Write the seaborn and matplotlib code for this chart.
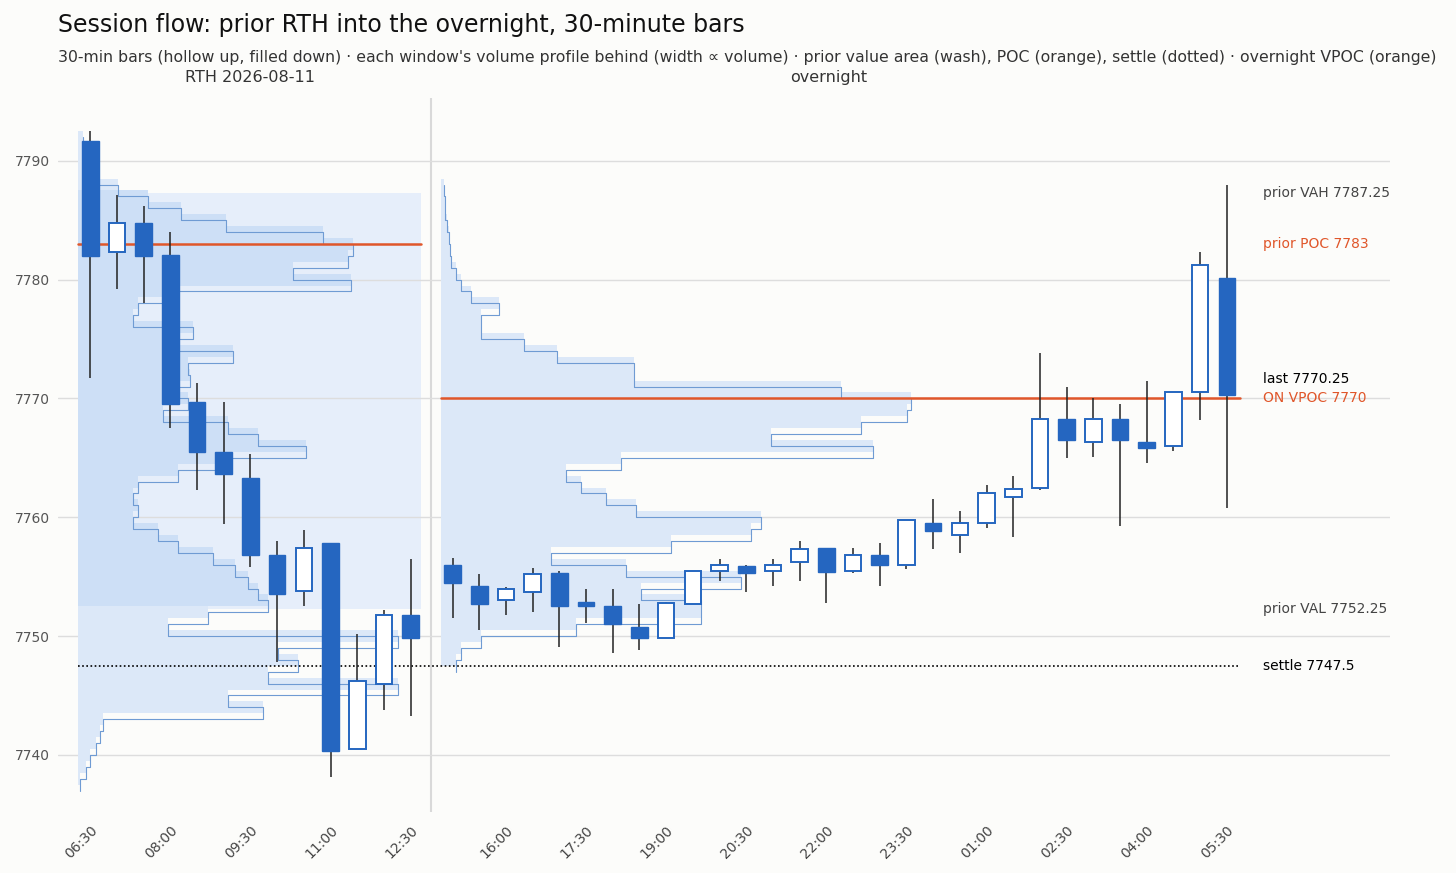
import numpy as np
import pandas as pd
import matplotlib.pyplot as plt
import seaborn as sns

# --- data ---
rth_times = ["06:30", "07:00", "07:30", "08:00", "08:30", "09:00", "09:30",
             "10:00", "10:30", "11:00", "11:30", "12:00", "12:30"]
rth_open = [7791.7, 7782.3, 7784.8, 7782.1, 7769.7, 7765.5, 7763.3, 7756.8, 7753.8, 7757.8, 7740.5, 7746.0, 7751.8]
rth_high = [7792.5, 7787.1, 7786.2, 7784.0, 7771.3, 7769.7, 7765.3, 7758.0, 7758.9, 7757.8, 7750.2, 7752.2, 7756.5]
rth_low = [7771.7, 7779.2, 7778.0, 7767.5, 7762.3, 7759.4, 7755.8, 7747.8, 7752.5, 7738.1, 7743.8, 7743.8, 7743.3]
rth_close = [7782.0, 7784.8, 7782.0, 7769.5, 7765.5, 7763.6, 7756.8, 7753.5, 7757.4, 7740.3, 7746.2, 7751.8, 7749.8]

on_times = ["15:00", "15:30", "16:00", "16:30", "17:00", "17:30", "18:00", "18:30", "19:00", "19:30",
            "20:00", "20:30", "21:00", "21:30", "22:00", "22:30", "23:00", "23:30", "00:00", "00:30",
            "01:00", "01:30", "02:00", "02:30", "03:00", "03:30", "04:00", "04:30", "05:00", "05:30"]
on_open = [7756.0, 7754.2, 7753.0, 7753.7, 7755.3, 7752.8, 7752.5, 7750.8, 7749.8, 7752.7,
           7755.5, 7755.9, 7755.5, 7756.2, 7757.4, 7755.5, 7756.8, 7756.0, 7759.5, 7758.5,
           7759.5, 7761.7, 7762.5, 7768.3, 7766.3, 7768.3, 7766.3, 7766.0, 7770.5, 7780.1]
on_high = [7756.6, 7755.2, 7754.1, 7755.7, 7755.5, 7754.0, 7754.0, 7752.7, 7752.9, 7755.5,
           7756.5, 7756.0, 7756.5, 7758.0, 7757.4, 7757.4, 7757.8, 7759.8, 7761.5, 7760.5,
           7762.7, 7763.5, 7773.8, 7771.0, 7770.0, 7769.5, 7771.5, 7768.5, 7782.3, 7788.0]
on_low = [7751.5, 7750.5, 7751.8, 7752.0, 7749.1, 7751.1, 7748.6, 7748.8, 7749.8, 7752.7,
          7754.6, 7753.7, 7754.2, 7754.6, 7752.8, 7755.3, 7754.2, 7755.6, 7757.3, 7757.0,
          7759.1, 7758.3, 7762.3, 7765.0, 7765.1, 7759.3, 7764.6, 7765.6, 7768.2, 7760.8]
on_close = [7754.5, 7752.7, 7754.0, 7755.2, 7752.5, 7752.5, 7751.0, 7749.8, 7752.8, 7755.5,
            7756.0, 7755.3, 7756.0, 7757.3, 7755.4, 7756.8, 7756.0, 7759.8, 7758.8, 7759.5,
            7762.0, 7762.4, 7768.3, 7766.5, 7768.3, 7766.5, 7765.8, 7770.5, 7781.2, 7770.25]

# volume profiles, one value per point
rth_levels = list(range(7738, 7793))
rth_vol = [2, 8, 12, 18, 22, 25, 185, 150, 320, 190, 220, 200, 320, 90,
           130, 190, 180, 170, 157, 135, 100, 80, 55, 60, 55, 60, 100, 150,
           228, 180, 150, 85, 110, 100, 112, 110, 155, 100, 115, 55, 60, 100,
           273, 215, 270, 275, 245, 148, 103, 70, 40, 20, 10, 8, 5]
on_levels = list(range(7748, 7789))
on_vol = [15, 20, 40, 135, 260, 260, 200, 300, 185, 110, 230, 310, 320, 195,
          165, 140, 125, 180, 432, 330, 420, 466, 470, 400, 193, 193, 116, 83,
          40, 40, 58, 30, 20, 15, 10, 9, 8, 6, 4, 4, 3]

prior_vah, prior_val, prior_poc = 7787.25, 7752.25, 7783
settle, on_vpoc, last = 7747.5, 7770, 7770.25

# --- styling ---
bg = "#fcfcfa"
blue = "#2566c0"
orange = "#e0562a"
sns.set_theme(style="white")
plt.rcParams["font.family"] = ["DejaVu Sans"]

fig = plt.figure(figsize=(14.56, 8.73), dpi=100, facecolor=bg)
ax = fig.add_axes([0.04, 0.07, 0.915, 0.818], facecolor=bg)

gap = 1.57
rth_x = np.arange(len(rth_times), dtype=float)
on_x = len(rth_times) - 1 + gap + np.arange(len(on_times), dtype=float)
px = 1 / 26.7  # volume units -> slots
rth_base = -0.45
on_base = on_x[0] - 0.42
rth_right = 12.4
end_x = on_x[-1] + 0.5

# value area wash
ax.fill_between([rth_base, rth_right], prior_val, prior_vah, color="#e6eefa", lw=0, zorder=0)

def profile(levels, vol, base, inside=None):
    lv = np.array(levels, float)
    w = np.array(vol, float) * px
    cols = []
    for l in lv:
        if inside is not None and inside[0] <= l <= inside[1]:
            cols.append("#cddff6")
        else:
            cols.append("#dce8f8")
    ax.barh(lv, w, height=1.0, left=base, color=cols, lw=0, zorder=1)
    # outline, offset half a point
    ys = np.repeat(lv - 1.0, 2) + np.tile([0, 1], len(lv))
    xs = base + np.repeat(w, 2)
    ax.plot(xs, ys, color="#6f9bd3", lw=0.8, zorder=2)

profile(rth_levels, rth_vol, rth_base, inside=(prior_val, prior_vah))
profile(on_levels, on_vol, on_base)

# reference lines
ax.plot([rth_base, rth_right], [prior_poc, prior_poc], color=orange, lw=1.8, zorder=3)
ax.plot([on_base, end_x], [on_vpoc, on_vpoc], color=orange, lw=1.8, zorder=3)
ax.plot([rth_base, end_x], [settle, settle], color="black", lw=1.2, ls=(0, (1, 1.5)), zorder=3)
ax.axvline(12.77, color="#d9d9d9", lw=1.5, zorder=0)

def candles(xs, o, h, l, c):
    df = pd.DataFrame({"x": xs, "o": o, "h": h, "l": l, "c": c})
    ax.vlines(df.x, df.l, df.h, color="#222222", lw=1.1, zorder=4)
    up = df.c >= df.o
    lo = np.minimum(df.o, df.c)
    hgt = np.abs(df.c - df.o).clip(lower=0.35)
    ax.bar(df.x[up], hgt[up], bottom=lo[up], width=0.62, color="white", edgecolor=blue, lw=1.4, zorder=5)
    ax.bar(df.x[~up], hgt[~up], bottom=lo[~up], width=0.62, color=blue, edgecolor=blue, lw=1.0, zorder=5)

candles(rth_x, rth_open, rth_high, rth_low, rth_close)
candles(on_x, on_open, on_high, on_low, on_close)

# right-hand labels
lx = on_x[-1] + 1.35
ax.text(lx, prior_vah, f"prior VAH {prior_vah}", color="#444444", va="center", fontsize=10)
ax.text(lx, prior_poc, f"prior POC {prior_poc}", color=orange, va="center", fontsize=10)
ax.text(lx, last + 1.4, f"last {last}", color="black", va="center", fontsize=10)
ax.text(lx, on_vpoc, f"ON VPOC {on_vpoc}", color=orange, va="center", fontsize=10)
ax.text(lx, prior_val, f"prior VAL {prior_val}", color="#444444", va="center", fontsize=10)
ax.text(lx, settle, f"settle {settle}", color="black", va="center", fontsize=10)

# window headers
ax.text(rth_x.mean(), 1.018, "RTH 2026-08-11", transform=ax.get_xaxis_transform(),
        ha="center", va="bottom", fontsize=11.5, color="#333333")
ax.text(on_x.mean() - 0.4, 1.018, "overnight", transform=ax.get_xaxis_transform(),
        ha="center", va="bottom", fontsize=11.5, color="#333333")

all_x = np.concatenate([rth_x, on_x])
all_t = rth_times + on_times
tick_idx = list(range(0, len(rth_times), 3)) + [len(rth_times) + i for i in range(2, len(on_times), 3)]
ax.set_xticks(all_x[tick_idx])
ax.set_xticklabels([all_t[i] for i in tick_idx], rotation=45, ha="right", rotation_mode="anchor",
                   fontsize=10, color="#444444")
ax.set_yticks(range(7740, 7791, 10))
ax.tick_params(axis="y", labelsize=10, labelcolor="#555555", length=0, pad=6)
ax.tick_params(axis="x", length=0, pad=8)
ax.grid(axis="y", color="#dddddd", lw=1)
ax.set_axisbelow(True)
ax.set_xlim(-1.2, 48.7)
ax.set_ylim(7735.2, 7795.3)
sns.despine(ax=ax, left=True, bottom=True)

fig.text(0.04, 0.971, "Session flow: prior RTH into the overnight, 30-minute bars", fontsize=17, color="#111111", va="center")
fig.text(0.04, 0.934, "30-min bars (hollow up, filled down) \u00b7 each window's volume profile behind (width \u221d volume) \u00b7 "
         "prior value area (wash), POC (orange), settle (dotted) \u00b7 overnight VPOC (orange)",
         fontsize=11.35, color="#333333", va="center")

fig.savefig("out.png", dpi=100, facecolor=bg)
